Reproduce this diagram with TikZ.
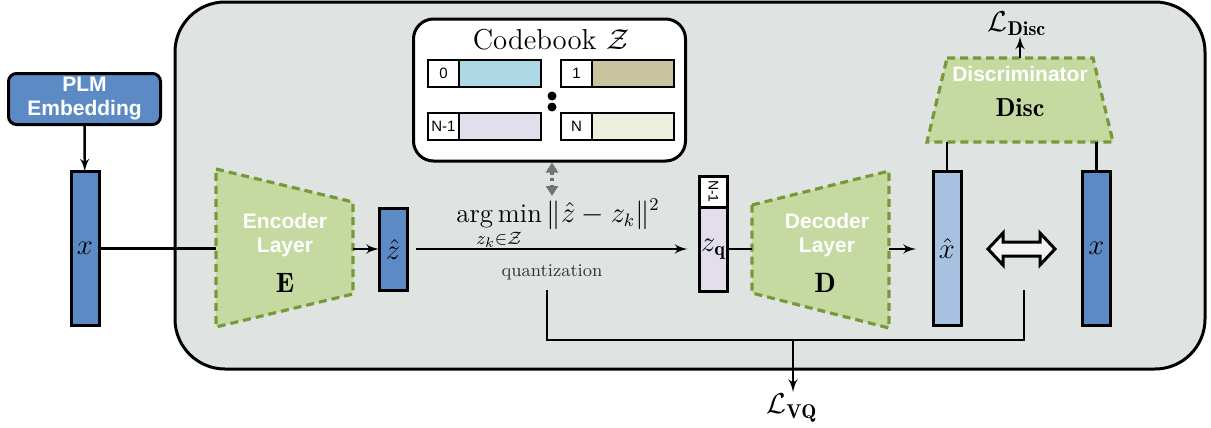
\documentclass[tikz,border=0pt]{standalone}
\usepackage{amssymb}
\usepackage{amsmath}
\usepackage{fontspec}
\newfontfamily\plm{Liberation Sans}
\usetikzlibrary{calc, arrows, arrows.meta, positioning}
\definecolor{bgray}{RGB}{223,228,226}
\definecolor{emb}{RGB}{91,138,196}
\definecolor{embl}{RGB}{169,193,224}
\definecolor{lay}{RGB}{197,217,160}
\definecolor{layd}{RGB}{120,153,58}
\definecolor{cbA}{RGB}{173,216,230}
\definecolor{cbB}{RGB}{201,195,160}
\definecolor{cbC}{RGB}{227,222,236}
\definecolor{cbD}{RGB}{235,240,223}

\begin{document}
\begin{tikzpicture}[x=0.5pt,y=-0.5pt,inner sep=.8pt,>=latex',
  bar/.style={draw,line width=1.5pt,minimum width=14pt,inner sep=0pt,outer sep=0pt,font=\Large},
  layer/.style={fill=lay,draw=layd,line width=1.6pt,dash pattern=on 4pt off 2.5pt},
  wtxt/.style={text=white,font=\plm\bfseries\fontsize{10.5}{12}\selectfont,align=center},
  idx/.style={draw,line width=1.2pt,fill=white,minimum width=15.5pt,minimum height=13.5pt,inner sep=0pt,outer sep=0pt,font=\plm\fontsize{7.5}{9}\selectfont},
  code/.style={draw,line width=1.2pt,minimum width=41pt,minimum height=13.5pt,inner sep=0pt,outer sep=0pt},
  line/.style={line width=1.2pt}]
\useasboundingbox (0,0) rectangle (1211,428);
\draw [fill=bgray,line width=1.5pt,rounded corners=25pt] (175,2) rectangle (1205,369);

\node [draw,fill=emb,line width=1.5pt,rounded corners=4pt,minimum width=76pt,minimum height=25.5pt,wtxt] (PLM) at (84.5,99) {PLM\\Embedding};
\node [bar,fill=emb,minimum height=77pt] (X1) at (85,248.5) {$x$};
\draw [->,line] (PLM) -- (X1);

\draw [layer] (216,169) -- (353,202) -- (353,294) -- (216,327) -- cycle;
\node [wtxt] (Etxt) at (285,235) {Encoder\\Layer};
\node [font=\fontsize{14}{16}\selectfont] (E) at (285,283) {$\mathbf{E}$};
\coordinate (Ein) at (216,248);
\coordinate (Eout) at (353,248);
\draw [line] (X1.east) -- (X1.east -| Ein);
\node [bar,fill=emb,minimum height=41pt] (Zh) at (393,249) {$\hat z$};
\draw [->,line] (Eout |- Zh) -- (Zh.west);

\node [draw,fill=white,line width=1.5pt,rounded corners=10pt,minimum width=136pt,minimum height=71pt] (CB) at (549.5,90) {};
\node (CBt) at (551,40) {\Large Codebook $\mathcal{Z}$};
\node [idx] (I0) at (443.5,73.5) {0};
\node [code,fill=cbA,right=0pt of I0] (C0) {};
\node [idx] (I1) at (576.5,73.5) {1};
\node [code,fill=cbB,right=0pt of I1] (C1) {};
\node [idx] (In) at (443.5,126.5) {N-1};
\node [code,fill=cbC,right=0pt of In] (Cn) {};
\node [idx] (IN) at (576.5,126.5) {N};
\node [code,fill=cbD,right=0pt of IN] (CN) {};
\node [circle,fill=black,inner sep=0pt,minimum size=4.5pt] (d1) at (552,96) {};
\node [circle,fill=black,inner sep=0pt,minimum size=4.5pt] (d2) at (552,107) {};

\node [bar,fill=white,minimum height=15.5pt] (Zt) at (713.5,191.5) {\rotatebox{-90}{\plm\fontsize{7}{8}\selectfont N-1}};
\node [bar,fill=cbC,minimum height=42pt,below=0pt of Zt] (Zq) {$z_{\mathbf q}$};
\draw [->,line,shorten <=4.5pt,shorten >=6pt] (Zh.east) -- (Zh.east -| Zq.west);
\node [anchor=base west,inner sep=0pt,font=\fontsize{13.5}{16}\selectfont] (AM) at (456,222) {$\displaystyle\operatorname*{arg\,min}_{z_k\in\mathcal{Z}}\|\hat z-z_k\|^2$};
\node [text=black!80,font=\small] (QZ) at (552,272) {quantization};
\coordinate (Qt) at (552,196);
\draw [{Triangle[length=5pt,width=6pt]}-{Triangle[length=5pt,width=6pt]},black!55,line width=1.6pt,dash pattern=on 1.6pt off 1.6pt] (Qt |- CB.south) -- (Qt);

\draw [layer] (752,205) -- (889,171) -- (889,328) -- (752,293) -- cycle;
\node [wtxt] (Dtxt) at (827,235) {Decoder\\Layer};
\node [font=\fontsize{14}{16}\selectfont] (D) at (825,283) {$\mathbf{D}$};
\coordinate (Din) at (752,249);
\coordinate (Dout) at (889,249);
\draw [line] (Zq.east) -- (Zq.east -| Din);
\node [bar,fill=embl,minimum height=77pt] (Xh) at (947,248.5) {$\hat x$};
\draw [->,line,shorten >=8.5pt] (Dout) -- (Dout -| Xh.west);
\node [bar,fill=emb,minimum height=77pt] (X2) at (1096.5,248.5) {$x$};
\coordinate (M) at (1021.5,249);
\draw [fill=black!5,line width=1.5pt] ($(M)+(-33.5,0)$) -- ++(15,-16) -- ++(0,9) -- ++(37,0) -- ++(0,-9) -- ++(15,16) -- ++(-15,16) -- ++(0,-9) -- ++(-37,0) -- ++(0,9) -- cycle;

\draw [layer] (947,58) -- (1093,58) -- (1113,142) -- (927,142) -- cycle;
\node [wtxt] (Ctxt) at (1020,74) {Discriminator};
\node [font=\fontsize{13}{15}\selectfont] (DI) at (1020,108) {$\mathbf{Disc}$};
\coordinate (Dtop) at (1020,58);
\coordinate (Dbot) at (1020,142);
\draw [line] (Xh.north) -- (Xh.north |- Dbot);
\draw [line] (X2.north) -- (X2.north |- Dbot);
\node [font=\Large,inner sep=0pt] (LD) at (1017,24) {$\mathcal{L}_{\mathbf{Disc}}$};
\draw [->,line] (Dtop) -- (Dtop |- LD.south);

\coordinate (V1) at (547,290);
\coordinate (V2) at (1024,290);
\coordinate (V0) at (793,340);
\draw [line] (V1) -- (V1 |- V0) -- (V2 |- V0) -- (V2);
\node [font=\Large] (LV) at (792,408) {$\mathcal{L}_{\mathbf{VQ}}$};
\draw [->,line] (V0) -- (V0 |- LV.north);
\end{tikzpicture}
\end{document}
